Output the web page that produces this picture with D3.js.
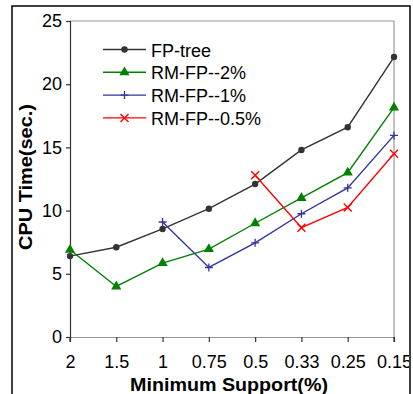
<!DOCTYPE html>
<html>
<head>
<meta charset="utf-8">
<script src="https://cdn.jsdelivr.net/npm/d3@7"></script>
<style>
  body { margin: 0; background: #fff; }
  svg { display: block; font-family: Arial, "Liberation Sans", sans-serif; }
</style>
</head>
<body>
<svg></svg>
<script>
const [svgWidth, svgHeight] = [413, 394];

// chart data
const supports = ['2', '1.5', '1', '0.75', '0.5', '0.33', '0.25', '0.15'];
const fpTree = [6.4, 7.1, 8.55, 10.15, 12.1, 14.8, 16.6, 22.15];
const rm2 = [6.9, 4.0, 5.85, 6.95, 9.0, 11.0, 13.0, 18.15];
const rm1 = [null, null, 9.1, 5.5, 7.45, 9.75, 11.8, 15.95];
const rm05 = [null, null, null, null, 12.8, 8.65, 10.25, 14.5];
const seriesNames = ['FP-tree', 'RM-FP--2%', 'RM-FP--1%', 'RM-FP--0.5%'];
const yTicks = [0, 5, 10, 15, 20, 25];

const series = [
  { name: seriesNames[0], vals: fpTree, color: '#333333', marker: 'circle' },
  { name: seriesNames[1], vals: rm2, color: '#008000', marker: 'triangle' },
  { name: seriesNames[2], vals: rm1, color: '#3333a0', marker: 'plus' },
  { name: seriesNames[3], vals: rm05, color: '#ff0000', marker: 'cross' }
];

const svg = d3.select('svg')
  .attr('width', svgWidth)
  .attr('height', svgHeight);

const plot = { left: 70, right: 394, top: 21, bottom: 337 };

const x = d3.scalePoint()
  .domain(supports)
  .range([plot.left, plot.right]);
const y = d3.scaleLinear()
  .domain([0, 25])
  .range([plot.bottom, plot.top]);

svg.append('defs').append('clipPath')
  .attr('id', 'frameClip')
  .append('rect')
  .attr('x', 0).attr('y', 0)
  .attr('width', 409).attr('height', svgHeight);

// outer frame
svg.append('rect')
  .attr('x', 12).attr('y', 6)
  .attr('width', 398).attr('height', 400)
  .attr('fill', 'none')
  .attr('stroke', '#000')
  .attr('stroke-width', 1.5);

// top / right border of plot area
svg.append('path')
  .attr('d', `M${plot.left},${plot.top}H${plot.right}V${plot.bottom}`)
  .attr('fill', 'none')
  .attr('stroke', '#999')
  .attr('stroke-width', 1.2);

const yAxis = svg.append('g')
  .attr('transform', `translate(${plot.left},0)`)
  .call(d3.axisLeft(y).tickValues(yTicks).tickSize(4).tickPadding(4));
const xAxis = svg.append('g')
  .attr('transform', `translate(0,${plot.bottom})`)
  .attr('clip-path', 'url(#frameClip)')
  .call(d3.axisBottom(x).tickSize(5).tickPadding(13));

[yAxis, xAxis].forEach(a => {
  a.select('.domain').attr('stroke', '#333').attr('stroke-width', 1.2);
  a.selectAll('.tick line').attr('stroke', '#333').attr('stroke-width', 1.2);
  a.selectAll('.tick text')
    .attr('fill', '#000')
    .style('font-size', '18px')
    .style('font-family', 'Arial, "Liberation Sans", sans-serif');
});
xAxis.select('.domain').attr('d', `M${plot.left},5V0H${plot.right}V5`);

// axis titles
svg.append('text')
  .attr('x', 229).attr('y', 391)
  .attr('text-anchor', 'middle')
  .attr('font-weight', 'bold')
  .attr('font-size', 18)
  .attr('textLength', 198)
  .attr('lengthAdjust', 'spacingAndGlyphs')
  .text('Minimum Support(%)');
svg.append('text')
  .attr('transform', 'translate(32,177) rotate(-90)')
  .attr('text-anchor', 'middle')
  .attr('font-weight', 'bold')
  .attr('font-size', 18)
  .attr('textLength', 146)
  .attr('lengthAdjust', 'spacingAndGlyphs')
  .text('CPU Time(sec.)');

const drawMarker = (sel, type, color) => {
  if (type === 'circle') {
    sel.append('circle').attr('r', 3.2).attr('fill', color);
  } else if (type === 'triangle') {
    sel.append('path')
      .attr('d', d3.symbol(d3.symbolTriangle, 45)())
      .attr('fill', color);
  } else if (type === 'plus') {
    sel.append('path')
      .attr('d', 'M-4,0H4M0,-4V4')
      .attr('stroke', color).attr('stroke-width', 1.3);
  } else {
    sel.append('path')
      .attr('d', 'M-4,-4L4,4M-4,4L4,-4')
      .attr('stroke', color).attr('stroke-width', 1.4);
  }
};

const line = d3.line()
  .defined(d => d.v != null)
  .x(d => x(d.s))
  .y(d => y(d.v));

series.forEach(s => {
  const pts = s.vals.map((v, i) => ({ s: supports[i], v: v }));
  svg.append('path')
    .datum(pts)
    .attr('d', line)
    .attr('fill', 'none')
    .attr('stroke', s.color)
    .attr('stroke-width', 1.4);
  pts.filter(d => d.v != null).forEach(d => {
    const g = svg.append('g')
      .attr('transform', `translate(${x(d.s)},${y(d.v)})`);
    drawMarker(g, s.marker, s.color);
  });
});

// legend
const legend = svg.append('g');
series.forEach((s, i) => {
  const ly = 49.5 + i * 22.8;
  legend.append('line')
    .attr('x1', 103).attr('x2', 146)
    .attr('y1', ly).attr('y2', ly)
    .attr('stroke', s.color)
    .attr('stroke-width', 1.4);
  const g = legend.append('g').attr('transform', `translate(124.5,${ly})`);
  drawMarker(g, s.marker, s.color);
  legend.append('text')
    .attr('x', 151).attr('y', ly + 7)
    .attr('font-size', 18)
    .text(s.name);
});
</script>
</body>
</html>
